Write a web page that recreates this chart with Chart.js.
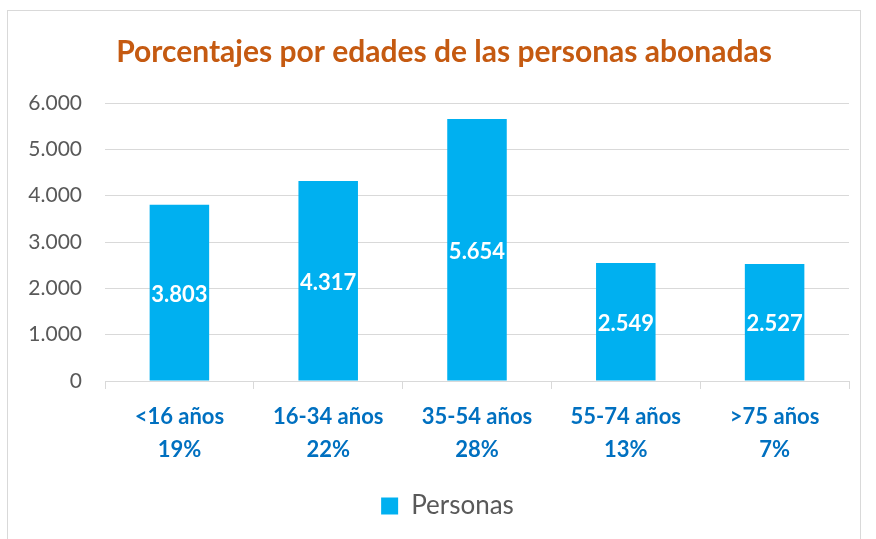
<!DOCTYPE html>
<html>
<head>
<meta charset="utf-8">
<script src="https://cdn.jsdelivr.net/npm/chart.js@4"></script>
<style>
  html, body { margin: 0; padding: 0; background: #fff; }
  #wrap { position: absolute; left: 0; top: 0; width: 876px; height: 539px; }
  #frame { position: absolute; left: 7px; top: 10px; width: 854px; height: 540px; border: 1px solid #d9d9d9; box-sizing: border-box; }
  canvas { position: absolute; left: 0; top: 0; }
</style>
</head>
<body>
<div id="wrap">
  <div id="frame"></div>
  <canvas id="chart" width="876" height="539"></canvas>
</div>
<script>
const categories = ['<16 años', '16-34 años', '35-54 años', '55-74 años', '>75 años'];
const percentages = ['19%', '22%', '28%', '13%', '7%'];
const personas = [3803, 4317, 5654, 2549, 2527];
const yTicks = [0, 1000, 2000, 3000, 4000, 5000, 6000];
const chartTitle = 'Porcentajes por edades de las personas abonadas';

const FONT = 'Lato, Carlito, Calibri, sans-serif';

function formatNum(v) {
    return v.toString().replace(/\B(?=(\d{3})+(?!\d))/g, '.');
}

// etiquetas blancas dentro de las barras
const barLabels = {
    id: 'barLabels',
    afterDatasetsDraw(chart) {
        const ctx = chart.ctx;
        const meta = chart.getDatasetMeta(0);
        ctx.save();
        ctx.fillStyle = '#ffffff';
        ctx.font = 'bold 22px ' + FONT;
        ctx.textAlign = 'center';
        ctx.textBaseline = 'middle';
        meta.data.forEach((bar, i) => {
            const mid = (bar.y + bar.base) / 2;
            ctx.fillText(formatNum(personas[i]), bar.x, mid + 2);
        });
        ctx.restore();
    }
};

// título centrado sobre el marco, no sobre el área con padding
const frameTitle = {
    id: 'frameTitle',
    afterDraw(chart) {
        const ctx = chart.ctx;
        ctx.save();
        ctx.fillStyle = '#c55a11';
        ctx.font = 'bold 30px ' + FONT;
        ctx.textAlign = 'center';
        ctx.textBaseline = 'middle';
        ctx.fillText(chartTitle, 444, 52);
        ctx.restore();
    }
};

// la leyenda va algo a la derecha del centro del lienzo
const legendShift = {
    id: 'legendShift',
    afterLayout(chart) {
        if (chart.legend) {
            chart.legend.left += 13;
            chart.legend.right += 13;
        }
    }
};

const ctx = document.getElementById('chart').getContext('2d');
new Chart(ctx, {
    type: 'bar',
    data: {
        labels: categories.map((c, i) => [c, percentages[i]]),
        datasets: [{
            label: 'Personas',
            data: personas,
            backgroundColor: '#00b0f0',
            borderWidth: 0,
            categoryPercentage: 0.4,
            barPercentage: 1.0
        }]
    },
    options: {
        responsive: false,
        animation: false,
        layout: { padding: { left: 20, right: 27, top: 103, bottom: 10 } },
        plugins: {
            title: { display: false },
            legend: {
                position: 'bottom',
                labels: {
                    color: '#595959',
                    font: { family: FONT, size: 26 },
                    boxWidth: 17,
                    boxHeight: 17,
                    padding: 16
                }
            },
            tooltip: { enabled: false }
        },
        scales: {
            x: {
                grid: {
                    offset: true,
                    drawOnChartArea: false,
                    color: '#d9d9d9',
                    tickLength: 8
                },
                border: { color: '#d9d9d9', width: 1 },
                ticks: {
                    color: '#0070c0',
                    font: { family: FONT, size: 22, weight: 'bold', lineHeight: 1.5 },
                    padding: 11,
                    maxRotation: 0
                }
            },
            y: {
                min: 0,
                max: 6000,
                afterBuildTicks(axis) {
                    axis.ticks = yTicks.map(v => ({ value: v }));
                },
                afterFit(axis) {
                    axis.width = 85;
                },
                grid: { color: '#d9d9d9', tickLength: 0 },
                border: { display: false },
                ticks: {
                    color: '#595959',
                    font: { family: FONT, size: 21 },
                    padding: 23,
                    callback: v => formatNum(v)
                }
            }
        }
    },
    plugins: [barLabels, frameTitle, legendShift]
});
</script>
</body>
</html>
